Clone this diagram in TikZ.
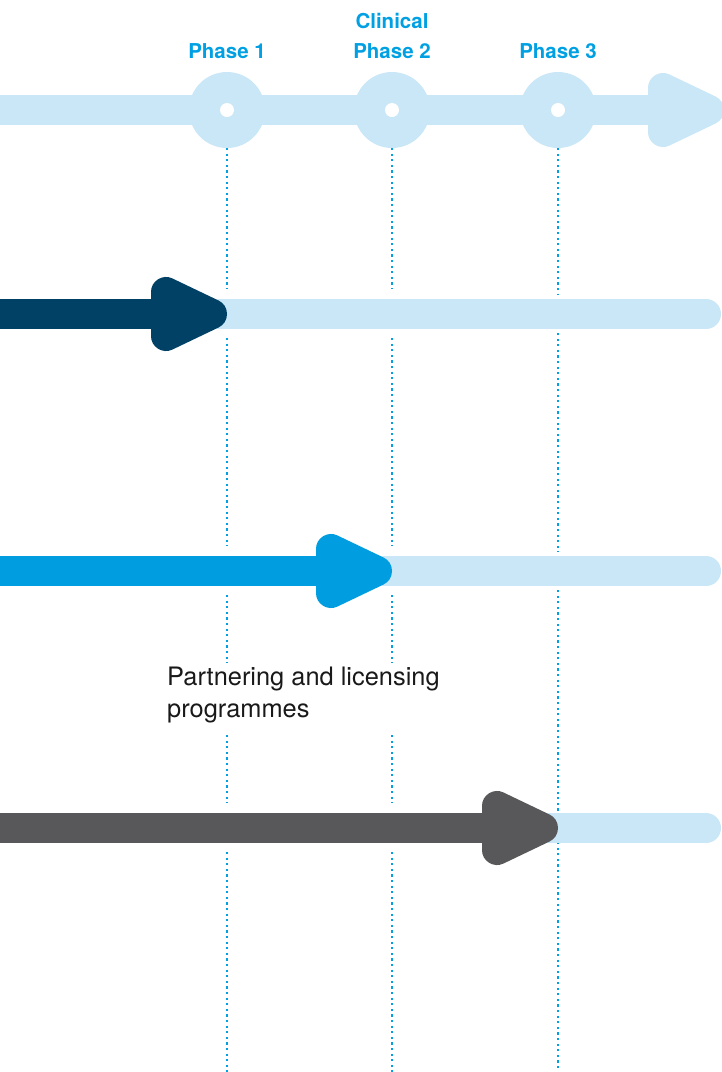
\documentclass[tikz,border=0pt]{standalone}
\usepackage{fontspec}
\setmainfont{TeX Gyre Heros}
\usepackage{xcolor}
\usetikzlibrary{positioning,calc}

\definecolor{barlight}{RGB}{201,231,247}
\definecolor{barnavy}{RGB}{0,65,101}
\definecolor{barcyan}{RGB}{0,158,224}
\definecolor{bargrey}{RGB}{88,88,90}
\definecolor{phaseblue}{RGB}{0,160,227}

\begin{document}
\begin{tikzpicture}[x=1pt, y=-1pt,
    phaselabel/.style={inner sep=0pt, anchor=base, text=phaseblue, font=\bfseries\fontsize{20.5}{23}\selectfont},
    guide/.style={draw=phaseblue, line width=2.2pt, dash pattern=on 2.2pt off 3.4pt},
    head/.style={line width=30pt, line join=round}]
    \useasboundingbox (0,0) rectangle (721,1072);

    % phase marks on the timeline
    \coordinate (p1) at (227,110);
    \coordinate (p2) at (392,110);
    \coordinate (p3) at (558,110);

    % dotted guides, broken round the bars and the text
    \foreach \n in {1,2}
        \foreach \a/\b in {148/289, 338/546, 595/663, 735/803, 852/1072}
            \draw [guide] (p\n |- 0,\a) -- (p\n |- 0,\b);
    \foreach \a/\b in {148/295, 333/552, 590/1072}
        \draw [guide] (p3 |- 0,\a) -- (p3 |- 0,\b);

    % timeline
    \fill [barlight] (0,95) rectangle (665,125);
    \filldraw [barlight, head] (663,88) -- (709,110) -- (663,132) -- cycle;
    \foreach \n in {1,2,3} {
        \fill [barlight] (p\n) circle (38);
        \fill [white] (p\n) circle (7);
    }

    \node [phaselabel] (ph1) at (227,58) {Phase 1};
    \node [phaselabel] (ph2) at (392,58) {Phase 2};
    \node [phaselabel] (clin) at (392,28) {Clinical};
    \node [phaselabel] (ph3) at (558,58) {Phase 3};

    % programme bars
    \foreach \c/\y/\n in {barnavy/314/1, barcyan/571/2, bargrey/828/3} {
        \coordinate (tip\n) at (p\n |- 0,\y);
        \fill [barlight] ($(tip\n)+(-40,-15)$) rectangle (706,\y+15);
        \fill [barlight] (706,\y) circle (15);
        \fill [\c] (0,\y-15) rectangle ($(tip\n)+(-55,15)$);
        \filldraw [\c, head] ($(tip\n)+(-61,-22)$) -- ($(tip\n)+(-15,0)$) -- ($(tip\n)+(-61,22)$) -- cycle;
    }

    \node [anchor=north west, inner sep=0pt, align=left, text=black!90,
        font=\fontsize{25.4}{32}\selectfont] (partner) at (167,667)
        {Partnering and licensing\\programmes};
\end{tikzpicture}
\end{document}
